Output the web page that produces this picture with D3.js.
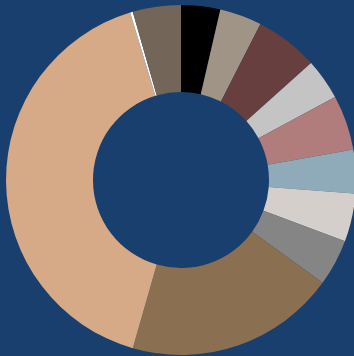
<!DOCTYPE html>
<html>
<head>
<meta charset="utf-8">
<script src="https://cdn.jsdelivr.net/npm/d3@7"></script>
<style>
  body { margin: 0; background: #183f6d; }
</style>
</head>
<body>
<div id="chart"></div>
<script>
// slice order runs clockwise from 12 o'clock
const categories = ["A", "B", "C", "D", "E", "F", "G", "H", "I", "J", "K", "L"];
const values = [13, 14, 21, 13.7, 18.3, 14.5, 16, 15.5, 70, 147.1, 0.9, 16];
const colors = ["#000000", "#a09486", "#663f3e", "#c4c4c4", "#b07c7c", "#8faab8",
                "#d4cfcb", "#858585", "#8a6f51", "#d6a987", "#ffffff", "#736557"];

const width = 354;
const height = 356;
const cx = 181;
const cy = 180;
const outerR = 175;
const innerR = 88;

const svg = d3.select("#chart").append("svg")
  .attr("width", width)
  .attr("height", height);

svg.append("rect")
  .attr("width", width)
  .attr("height", height)
  .attr("fill", "#183f6d");

const g = svg.append("g")
  .attr("transform", `translate(${cx},${cy})`);

const pie = d3.pie()
  .sort(null)
  .value(d => d.value);

const arc = d3.arc()
  .innerRadius(innerR)
  .outerRadius(outerR);

const data = categories.map((c, i) => ({ name: c, value: values[i], color: colors[i] }));

g.selectAll("path")
  .data(pie(data))
  .enter().append("path")
  .attr("d", arc)
  .attr("fill", d => d.data.color);
</script>
</body>
</html>
